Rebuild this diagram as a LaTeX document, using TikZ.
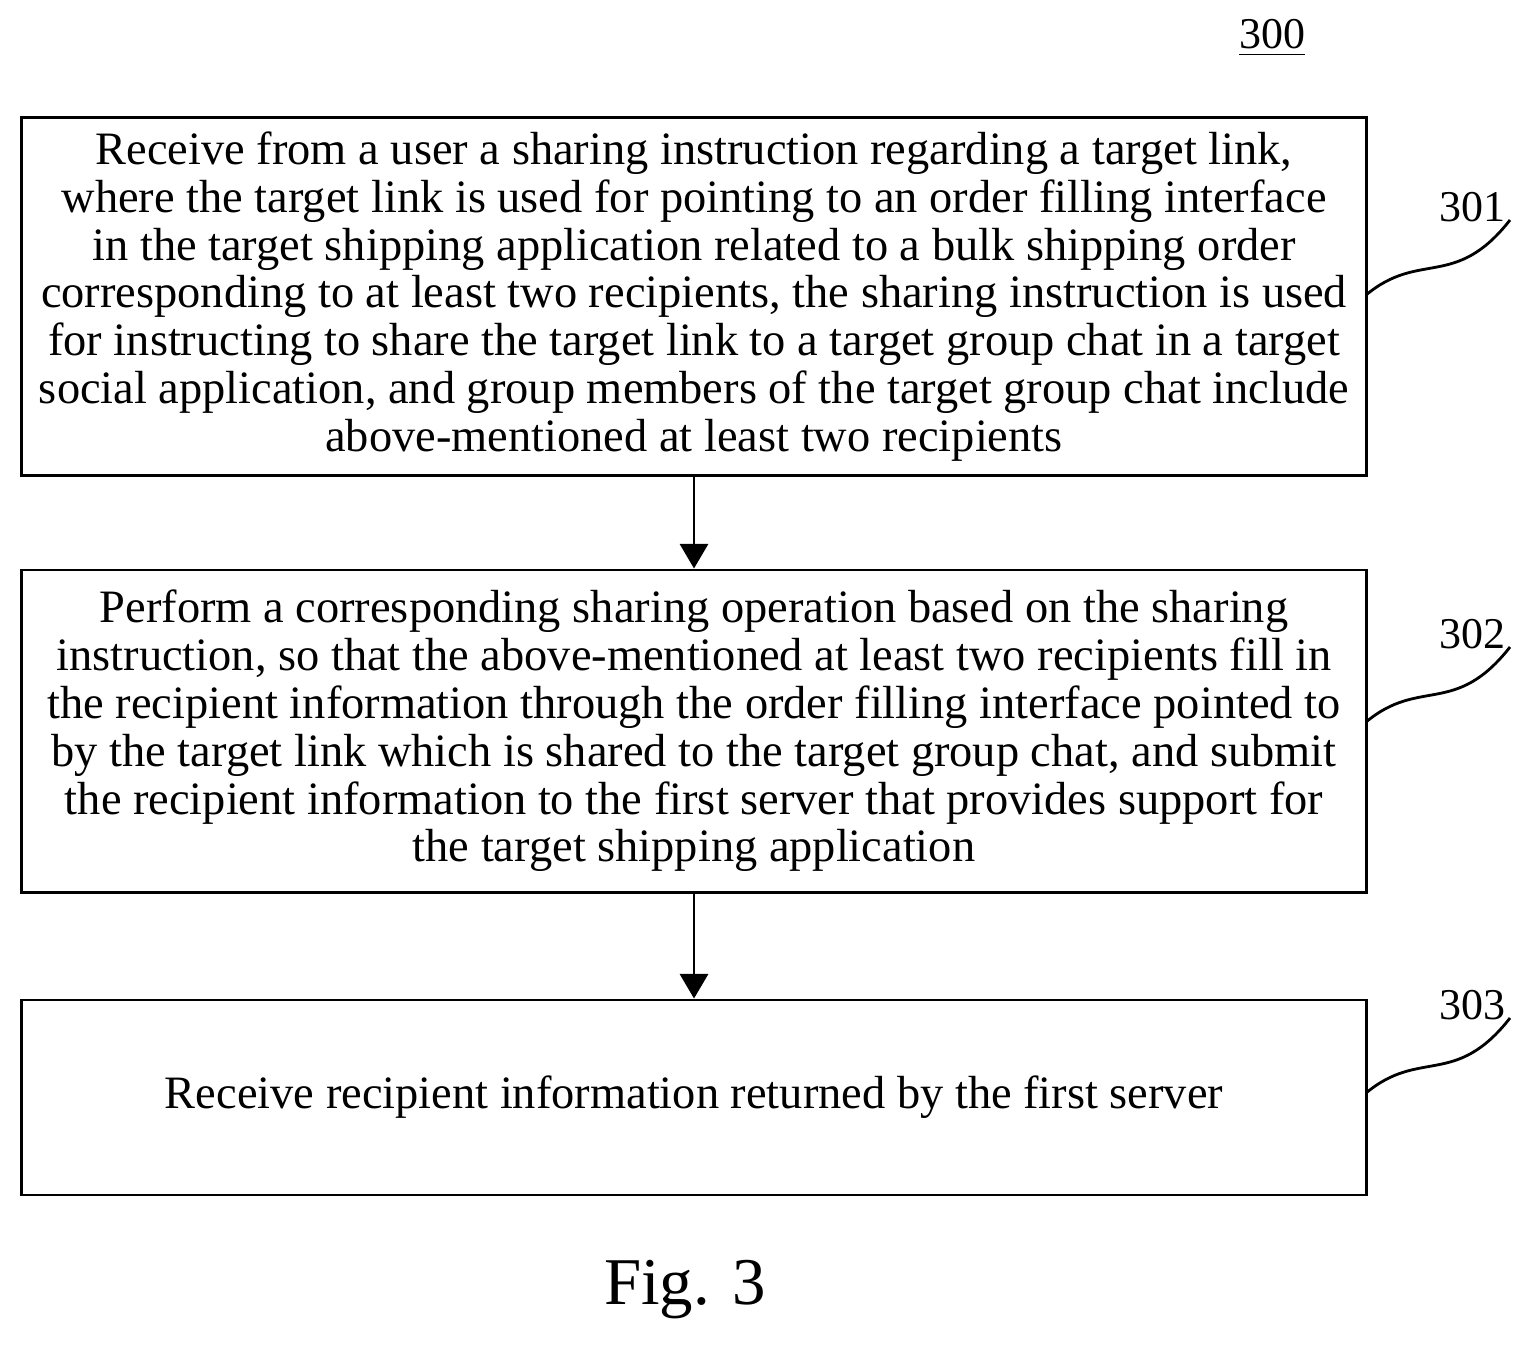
\documentclass[tikz,border=0pt]{standalone}
\usepackage{fontspec}
\setmainfont{Liberation Serif}
\usetikzlibrary{arrows.meta}

\begin{document}
\begin{tikzpicture}[x=0.01cm,y=-0.01cm,
  stepbox/.style={draw,thick,minimum width=13.44cm,align=center,inner sep=0pt,
    font=\fontsize{13.2pt}{13.6pt}\selectfont},
  flow/.style={thick,-{Triangle[length=7pt,width=8pt]}},
  tag/.style={font=\fontsize{12.5pt}{13.6pt}\selectfont}]
  \useasboundingbox (0,0) rectangle (1540,1348);

  % Schritte
  \node[stepbox,minimum height=3.57cm] (s1) at (694,296.5) {Receive from a user a sharing instruction regarding a target link,\\
    where the target link is used for pointing to an order filling interface\\
    in the target shipping application related to a bulk shipping order\\
    corresponding to at least two recipients, the sharing instruction is used\\
    for instructing to share the target link to a target group chat in a target\\
    social application, and group members of the target group chat include\\
    above-mentioned at least two recipients};
  \node[stepbox,minimum height=3.22cm] (s2) at (694,731) {Perform a corresponding sharing operation based on the sharing\\
    instruction, so that the above-mentioned at least two recipients fill in\\
    the recipient information through the order filling interface pointed to\\
    by the target link which is shared to the target group chat, and submit\\
    the recipient information to the first server that provides support for\\
    the target shipping application};
  \node[stepbox,minimum height=1.95cm] (s3) at (694,1097.5) {Receive recipient information returned by the first server};

  \draw[flow] (s1) -- (s2);
  \draw[flow] (s2) -- (s3);

  % Bezugszeichen
  \node[tag] (n300) at (1272,38) {\underline{300}};
  \foreach \k/\y in {1/295,2/722,3/1093}{
    \coordinate (w\k) at (1366,\y);
    \draw[thick] (w\k) .. controls (1420,\y-45) and (1455,\y-5) .. (1510,\y-75);
    \node[tag] (n30\k) at (1472,\y-88) {30\k};
  }

  \node[font=\fontsize{19pt}{22pt}\selectfont] (fig) at (685,1290) {Fig. 3};
\end{tikzpicture}
\end{document}
